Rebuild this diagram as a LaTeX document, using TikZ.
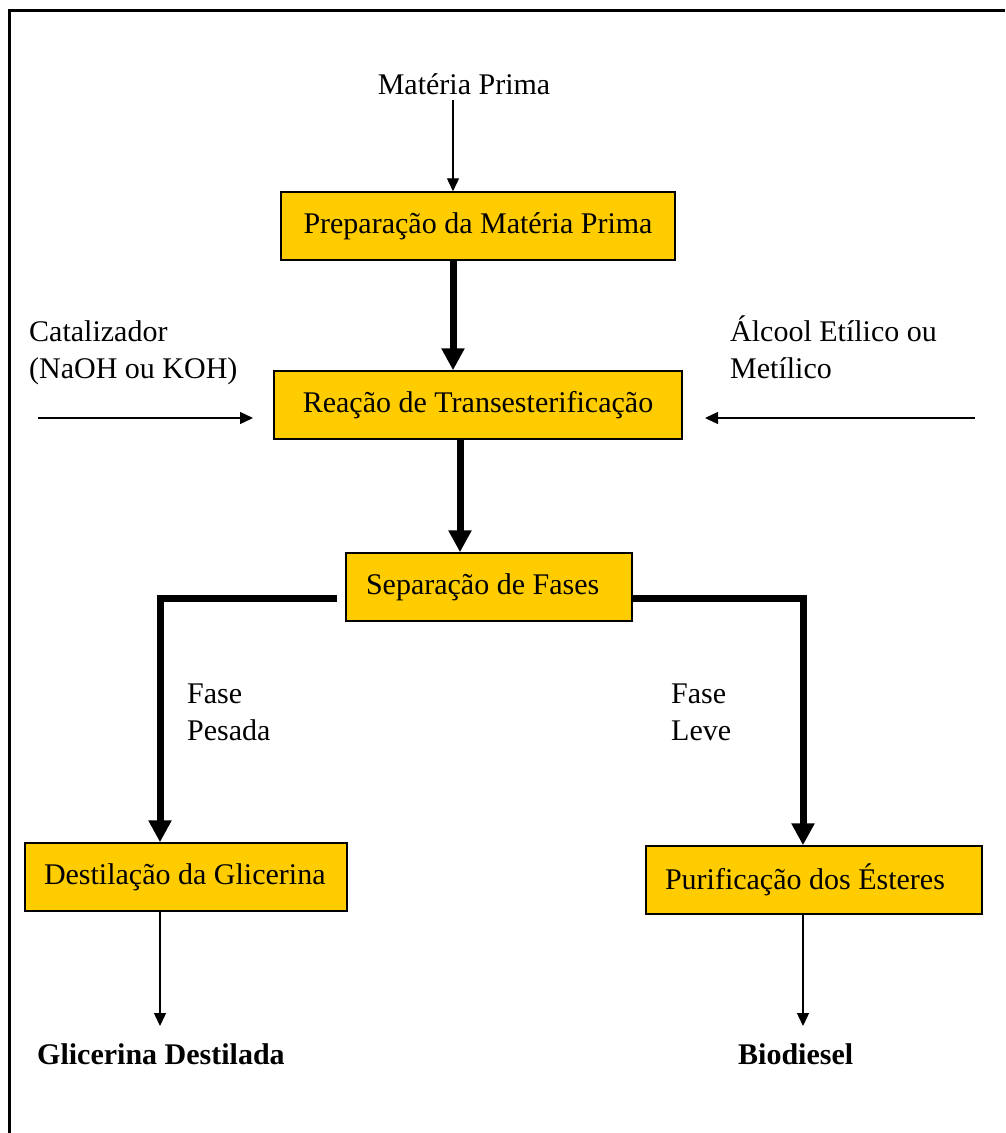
\documentclass[tikz,border=0pt]{standalone}
\usepackage{fontspec}
\setmainfont{Liberation Serif}
\usetikzlibrary{arrows.meta}
\definecolor{boxfill}{HTML}{FFCC00}
\begin{document}
\begin{tikzpicture}[x=1pt,y=-1pt,
  every node/.style={font=\fontsize{30}{37}\selectfont},
  stepbox/.style={draw=black, line width=1.5pt, fill=boxfill, minimum height=68pt,
    inner xsep=19pt, inner ysep=0pt},
  thinarrow/.style={line width=1.4pt, -{Triangle[length=13pt,width=12pt]}},
  thickarrow/.style={line width=7pt, line join=miter, -{Triangle[length=22pt,width=22pt]}},
  label/.style={align=left, inner sep=0pt, anchor=base west}]
\useasboundingbox (0,0) rectangle (1005,1133);
\fill[white] (0,0) rectangle (1005,1133);
% page frame (top and left edges)
\draw[line width=3pt] (9.7,1133) -- (9.7,10.7) -- (1005,10.7);

% process boxes
\node[stepbox, minimum width=394pt] (prep) at (478,226) {Preparação da Matéria Prima};
\node[stepbox, minimum width=408pt] (reac) at (478,405) {Reação de Transesterificação};
\node[stepbox, inner xsep=20pt] (sep) at (489,587) {\makebox[246pt][l]{Separação de Fases}};
\node[stepbox] (dest) at (186,877) {\makebox[284pt][l]{Destilação da Glicerina}};
\node[stepbox] (pur) at (814,880) {\makebox[298pt][l]{Purificação dos Ésteres}};

% free texts (base anchor sits on the last line of multi-line labels)
\node[inner sep=0pt, anchor=base] (mp) at (464,94) {Matéria Prima};
\node[label] (cat) at (29,378) {Catalizador\\(NaOH ou KOH)};
\node[label] (alc) at (730,378) {Álcool Etílico ou\\Metílico};
\node[label] (pes) at (187,740) {Fase\\Pesada};
\node[label] (lev) at (671,740) {Fase\\Leve};
\node[label, font=\fontsize{30}{37}\selectfont\bfseries] (gli) at (37,1064) {Glicerina Destilada};
\node[label, font=\fontsize{30}{37}\selectfont\bfseries] (bio) at (738,1064) {Biodiesel};

% connector anchors
\coordinate (mpfoot) at (453,100);
\coordinate (x1) at (453,0);
\coordinate (x2) at (460,0);
\coordinate (catstart) at (38,418);
\coordinate (cattip) at (253,418);
\coordinate (alcstart) at (975,418);
\coordinate (alctip) at (705,418);
\coordinate (lb) at (337,598);
\coordinate (lc) at (160,598);
\coordinate (rb) at (632,598);
\coordinate (rc) at (803,598);
\coordinate (glitip) at (160,1026);
\coordinate (biotip) at (803,1026);

% connectors
\draw[thinarrow] (mpfoot) -- (mpfoot |- prep.north);
\draw[thickarrow] (x1 |- prep.south) -- (x1 |- reac.north);
\draw[thinarrow] (catstart) -- (cattip);
\draw[thinarrow] (alcstart) -- (alctip);
\draw[thickarrow] (x2 |- reac.south) -- (x2 |- sep.north);
\draw[thickarrow] (lb) -- (lc) -- (lc |- dest.north);
\draw[thickarrow] (rb) -- (rc) -- (rc |- pur.north);
\draw[thinarrow] (lc |- dest.south) -- (glitip);
\draw[thinarrow] (rc |- pur.south) -- (biotip);
\end{tikzpicture}
\end{document}
